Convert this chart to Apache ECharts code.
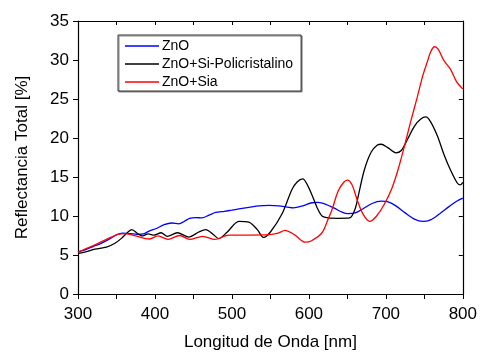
<!DOCTYPE html>
<html>
<head>
<meta charset="utf-8">
<script src="https://cdn.jsdelivr.net/npm/echarts@6/dist/echarts.min.js"></script>
<style>
html,body{margin:0;padding:0;background:#fff;}
#chart{width:480px;height:356px;}
</style>
</head>
<body>
<div id="chart"></div>
<script>
// Series names
const seriesNames = ['ZnO', 'ZnO+Si-Policristalino', 'ZnO+Sia'];

// ZnO (blue)
const znoWl = [300,310,320,330,340,350,358,368,377,385,393,402,412,422,431,438,445,453,461,470,479,490,500,509,522,535,548,561,572,580,592,604,612,622,633,643,651,660,670,682,694,703,713,725,737,748,758,770,782,792,800];
const znoVal = [5.4,5.7,6.1,6.5,7.0,7.6,7.8,7.75,7.65,7.7,8.1,8.4,8.9,9.1,9.0,9.3,9.7,9.8,9.75,10.1,10.45,10.6,10.75,10.9,11.1,11.3,11.35,11.3,11.15,11.05,11.3,11.7,11.75,11.5,11.0,10.5,10.3,10.4,10.9,11.6,11.9,11.8,11.3,10.4,9.6,9.3,9.5,10.3,11.2,11.9,12.3];

// ZnO+Si-Policristalino (black)
const siPolyWl = [300,310,322,337,348,356,365,370,378,384,391,399,408,416,429,444,457,466,475,483,494,509,522,533,541,550,565,578,585,592,598,604,611,617,625,638,653,660,664,672,681,689,694,702,713,720,728,737,745,752,758,767,776,784,793,797,800];
const siPolyVal = [5.2,5.4,5.75,6.0,6.5,7.1,7.95,8.25,7.7,7.45,7.7,7.55,7.85,7.4,7.85,7.3,7.95,8.25,7.7,7.1,7.95,9.3,9.2,8.25,7.25,7.95,10.25,13.4,14.4,14.75,14.0,12.7,11.0,10.0,9.75,9.7,9.75,10.9,12.5,15.9,18.2,19.1,19.2,18.8,18.1,18.4,19.8,21.5,22.4,22.7,22.1,20.25,17.75,15.9,14.2,14.0,14.3];

// ZnO+Sia (red)
const siaWl = [300,310,322,339,352,361,371,382,393,404,417,432,445,462,478,496,522,548,560,569,582,595,603,617,625,630,638,645,650,656,663,670,679,688,698,708,716,724,732,741,748,754,758,763,768,775,784,792,800];
const siaVal = [5.35,5.8,6.3,7.1,7.65,7.75,7.55,7.25,7.05,7.45,7.0,7.5,7.0,7.4,7.0,7.55,7.55,7.6,7.8,8.15,7.55,6.65,6.8,7.85,9.6,10.8,13.2,14.3,14.6,14.0,12.0,10.3,9.3,10.0,11.5,13.6,16.0,18.9,22.0,25.3,28.0,29.8,31.0,31.7,31.4,30.0,28.8,27.2,26.3];

// Axis ticks
const xTicks = [300, 400, 500, 600, 700, 800];
const yTicks = [0, 5, 10, 15, 20, 25, 30, 35];
const xTitle = 'Longitud de Onda [nm]';
const yTitle = 'Reflectancia Total [%]';
const colors = ['#0000ff', '#000000', '#ff0000'];

function pairs(wl, v) { return wl.map((w, i) => [w, v[i]]); }

const font = 'Liberation Sans, Arial, sans-serif';
const chart = echarts.init(document.getElementById('chart'), null, {renderer: 'canvas'});

const axisLineStyle = {color: '#000', width: 1.2};

chart.setOption({
  animation: false,
  backgroundColor: '#fff',
  grid: {left: 78, right: 15, top: 21, bottom: 54, containLabel: false},
  legend: {
    orient: 'vertical',
    left: 118, top: 35,
    padding: [4, 8, 2, 7],
    itemGap: 4,
    itemWidth: 34,
    itemHeight: 1.4,
    icon: 'rect',
    backgroundColor: '#fff',
    borderColor: '#333',
    borderWidth: 1,
    shadowColor: '#888',
    shadowOffsetX: 1,
    shadowOffsetY: 1,
    shadowBlur: 0,
    textStyle: {fontFamily: font, fontSize: 14, color: '#000', lineHeight: 13, padding: [0,0,0,-2]},
    data: seriesNames
  },
  xAxis: [{
    type: 'value', position: 'bottom',
    min: 300, max: 800, interval: 50,
    name: xTitle, nameLocation: 'middle', nameGap: 40,
    nameTextStyle: {fontFamily: font, fontSize: 17, color: '#000'},
    axisLine: {show: true, onZero: false, lineStyle: axisLineStyle},
    axisTick: {show: true, inside: false, length: 5, lineStyle: {color: '#000', width: 1}},
    axisLabel: {
      fontFamily: font, fontSize: 17, color: '#000', margin: 12,
      formatter: v => xTicks.indexOf(v) >= 0 ? String(v) : ''
    },
    splitLine: {show: false}
  }, {
    type: 'value', position: 'top',
    min: 300, max: 800, interval: 50,
    axisLine: {show: true, onZero: false, lineStyle: axisLineStyle},
    axisTick: {show: true, inside: true, length: 4, lineStyle: {color: '#000', width: 1}},
    axisLabel: {show: false},
    splitLine: {show: false}
  }],
  yAxis: [{
    type: 'value', position: 'left',
    min: 0, max: 35, interval: 5,
    name: yTitle, nameLocation: 'middle', nameGap: 47,
    nameTextStyle: {fontFamily: font, fontSize: 17, color: '#000'},
    axisLine: {show: true, onZero: false, lineStyle: axisLineStyle},
    axisTick: {show: true, inside: false, length: 5, lineStyle: {color: '#000', width: 1}},
    axisLabel: {
      fontFamily: font, fontSize: 17, color: '#000', margin: 9,
      formatter: v => yTicks.indexOf(v) >= 0 ? String(v) : ''
    },
    splitLine: {show: false}
  }, {
    type: 'value', position: 'right',
    min: 0, max: 35, interval: 5,
    axisLine: {show: true, onZero: false, lineStyle: axisLineStyle},
    axisTick: {show: true, inside: true, length: 4, lineStyle: {color: '#000', width: 1}},
    axisLabel: {show: false},
    splitLine: {show: false}
  }],
  series: [
    {name: seriesNames[0], type: 'line', data: pairs(znoWl, znoVal), smooth: 0.3, showSymbol: false, symbol: 'none',
     lineStyle: {color: colors[0], width: 1.3}, itemStyle: {color: colors[0]}},
    {name: seriesNames[1], type: 'line', data: pairs(siPolyWl, siPolyVal), smooth: 0.3, showSymbol: false, symbol: 'none',
     lineStyle: {color: colors[1], width: 1.3}, itemStyle: {color: colors[1]}},
    {name: seriesNames[2], type: 'line', data: pairs(siaWl, siaVal), smooth: 0.3, showSymbol: false, symbol: 'none',
     lineStyle: {color: colors[2], width: 1.3}, itemStyle: {color: colors[2]}}
  ]
});
</script>
</body>
</html>
